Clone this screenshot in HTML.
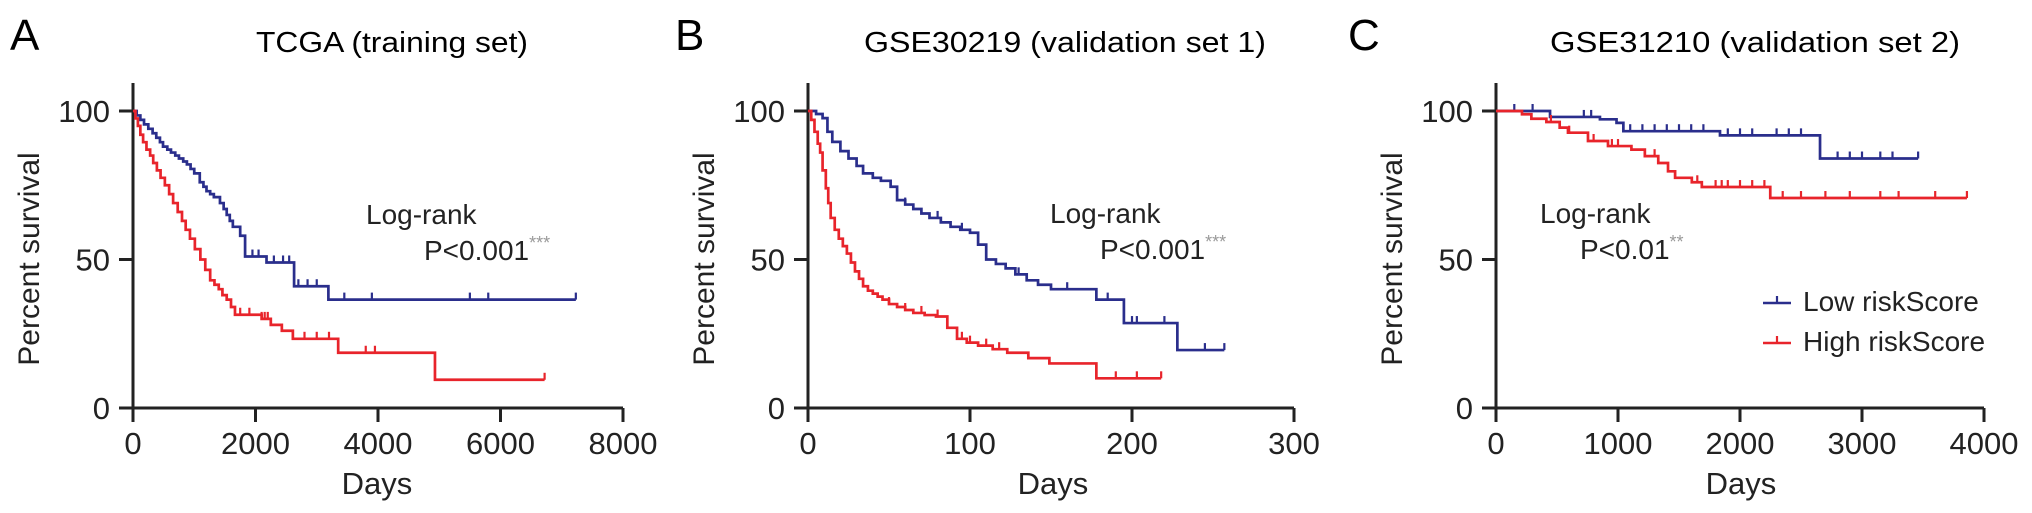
<!DOCTYPE html>
<html><head><meta charset="utf-8"><style>
html,body{margin:0;padding:0;background:#fff;}
svg{display:block;font-family:"Liberation Sans",Arial,sans-serif;}
</style></head><body>
<svg id="chart" width="2032" height="513" viewBox="0 0 2032 513" xmlns="http://www.w3.org/2000/svg">
<text x="10" y="50" font-size="44">A</text>
<text x="675" y="50" font-size="44">B</text>
<text x="1348" y="50" font-size="44">C</text>
<text x="256" y="52" font-size="29" textLength="272" lengthAdjust="spacingAndGlyphs">TCGA (training set)</text>
<text x="864" y="52" font-size="29" textLength="402" lengthAdjust="spacingAndGlyphs">GSE30219 (validation set 1)</text>
<text x="1550" y="52" font-size="29" textLength="410" lengthAdjust="spacingAndGlyphs">GSE31210 (validation set 2)</text>
<g id="pa"></g>
<g id="pb"></g>
<g id="pc"></g>
<g>
<g>
<line x1="1763" y1="303" x2="1791" y2="303" stroke="#2a2e8c" stroke-width="2.5"/><line x1="1777" y1="303" x2="1777" y2="296" stroke="#2a2e8c" stroke-width="2.2"/>
<text x="1803" y="311" font-size="28" fill="#222">Low riskScore</text></g>
<g>
<line x1="1763" y1="343" x2="1791" y2="343" stroke="#e8242b" stroke-width="2.5"/><line x1="1777" y1="343" x2="1777" y2="336" stroke="#e8242b" stroke-width="2.2"/>
<text x="1803" y="351" font-size="28" fill="#222">High riskScore</text></g>
</g>
</svg>
<script>
// Panel A data (TCGA)
const aXTicks = [0, 2000, 4000, 6000, 8000];
const aLowT = [0,60,120,180,250,320,380,440,490,560,620,690,750,820,880,940,1000,1090,1150,1200,1260,1320,1420,1480,1530,1580,1630,1750,1830,2180,2630,3190];
const aLowS = [100,98.5,97,95.5,94,92.5,91,89.5,88,87,86,85,84,83,82,80.5,79,76,74.5,73,72,71,69,67,65,63,61,58,51,49,41,36.5];
const aLowEnd = 7230;
const aLowCens = [1950,2050,2300,2450,2550,2700,2850,3000,3450,3900,5500,5800,7230];
const aHighT = [0,40,80,120,165,220,280,330,390,450,520,590,655,730,800,860,930,1010,1100,1180,1260,1330,1400,1460,1530,1600,1665,2100,2250,2430,2610,3350,4930];
const aHighS = [100,97.5,95,92,89.5,87,85,82.5,80,77.5,75,72,69,66,63,60,57,53.5,50,46.5,43,41.5,40,38,36.5,34,31.4,30,28,26,23.3,18.6,9.5];
const aHighEnd = 6720;
const aHighCens = [1750,1900,2100,2150,2200,2800,3000,3200,3800,3950,6720];
// Panel B data (GSE30219)
const bXTicks = [0, 100, 200, 300];
const bLowT = [0,5,9,12,15,20,25,30,34,40,45,51,55,60,65,70,75,82,88,94,100,105,110,116,122,128,135,142,150,165,178,195,228];
const bLowS = [100,99,97.6,93,89.6,86.5,84,81.5,79,77.5,76.5,74.5,70,68.5,67,65.5,64,62.5,61,60,59,55,50,48.5,47,45,43,41.5,40,40,36.5,28.6,19.5];
const bLowEnd = 257;
const bLowCens = [60,80,95,130,160,185,200,203,220,245,257];
const bHighT = [0,2,4,6,7.5,9,11,12.5,14,16.5,19,21.5,24,26.5,29,31.5,34,37,40,43,46,50,55,60,65,72,79,86,92,98,105,114,123,136,149,178];
const bHighS = [100,97,93,89,86,80,74,69,64,60,57,54.5,52,49,46,43.5,41,39.5,38.5,37.5,36.5,35,34,33,32,31.3,30.8,27,23.3,22,21,19.8,18.6,16.8,15,10];
const bHighEnd = 218;
const bHighCens = [50,60,70,80,95,100,110,118,190,203,218];
// Panel C data (GSE31210)
const cXTicks = [0, 1000, 2000, 3000, 4000];
const cLowT = [0,443,852,988,1044,1836,2656];
const cLowS = [100,98,97.2,96,93.2,91.8,84];
const cLowEnd = 3460;
const cLowCens = [150,300,720,780,1100,1200,1300,1400,1500,1600,1700,1900,2000,2100,2300,2400,2500,2800,2900,3000,3150,3250,3460];
const cHighT = [0,213,290,413,522,590,754,918,1110,1220,1330,1410,1468,1605,1687,2248];
const cHighS = [100,98.9,97.4,96.3,94.4,92.7,89.9,88.2,87,84.8,82.5,79.7,77.5,76,74.4,70.7];
const cHighEnd = 3860;
const cHighCens = [450,600,800,950,1000,1300,1650,1800,1850,1900,2000,2100,2200,2350,2500,2700,2900,3150,3300,3600,3860];
const yTicks = [0, 50, 100];

const NS = "http://www.w3.org/2000/svg";
const BLUE = "#2a2e8c", RED = "#e8242b";
function mk(tag, attrs, parent, text) {
  const e = document.createElementNS(NS, tag);
  for (const k in attrs) e.setAttribute(k, attrs[k]);
  if (text !== undefined) e.textContent = text;
  parent.appendChild(e);
  return e;
}
function survAt(T, S, d) { let s = S[0]; for (let i = 0; i < T.length; i++) if (T[i] <= d) s = S[i]; return s; }

function panel(id, cfg) {
  const g = document.getElementById(id);
  const xs = d => cfg.x0 + (d / cfg.xmax) * (cfg.x1 - cfg.x0);
  const ys = s => cfg.y0 - (s / 100) * (cfg.y0 - cfg.y100);
  const ya = mk("line", {x1: cfg.x0, y1: cfg.y0, x2: cfg.x0, y2: cfg.y100 - 28, stroke: "#222", "stroke-width": 3}, g);
  
  
  const xa = mk("line", {x1: cfg.x0 - 14, y1: cfg.y0, x2: cfg.x1, y2: cfg.y0, stroke: "#222", "stroke-width": 3}, g);
  
  
  yTicks.forEach(v => {
    const t = mk("line", {x1: cfg.x0 - 14, y1: ys(v), x2: cfg.x0, y2: ys(v), stroke: "#222", "stroke-width": 3}, g);
    
    
    const l = mk("text", {x: cfg.x0 - 23, y: ys(v) + 11, "font-size": 31, "text-anchor": "end", fill: "#222"}, g, String(v));
    
    
  });
  cfg.ticks.forEach(v => {
    const t = mk("line", {x1: xs(v), y1: cfg.y0, x2: xs(v), y2: cfg.y0 + 14, stroke: "#222", "stroke-width": 3}, g);
    
    
    const l = mk("text", {x: xs(v), y: cfg.y0 + 46, "font-size": 31, "text-anchor": "middle", fill: "#222"}, g, String(v));
    
    
  });
  const yt = mk("text", {x: 0, y: 0, "font-size": 30, "text-anchor": "middle", fill: "#222", transform: `translate(${cfg.x0 - 94},259) rotate(-90)`}, g, "Percent survival");
  
  
  const xt = mk("text", {x: cfg.daysX, y: 494, "font-size": 31, "text-anchor": "middle", fill: "#222"}, g, "Days");
  
  
  cfg.series.forEach(sr => {
    let d = `M${xs(sr.T[0])},${ys(sr.S[0])}`;
    for (let i = 1; i < sr.T.length; i++) d += ` H${xs(sr.T[i])} V${ys(sr.S[i])}`;
    d += ` H${xs(sr.end)}`;
    const p = mk("path", {d: d, fill: "none", stroke: sr.color, "stroke-width": 2.7}, g);
    
    
    sr.cens.forEach(c => {
      const yy = ys(survAt(sr.T, sr.S, c));
      const m = mk("line", {x1: xs(c), y1: yy, x2: xs(c), y2: yy - 7, stroke: sr.color, "stroke-width": 2.2}, g);
      
      
    });
  });
  const lr = mk("text", {x: cfg.lrX, y: cfg.lrY, "font-size": 28, fill: "#222"}, g, "Log-rank");
  
  
  const pv = mk("text", {x: cfg.pX, y: cfg.lrY + 36, "font-size": 28, fill: "#222"}, g);
  
  
  mk("tspan", {}, pv, cfg.p);
  mk("tspan", {dy: -11, "font-size": 18, fill: "#999"}, pv, cfg.stars);
}

panel("pa", {x0: 133, x1: 623, xmax: 8000, y0: 408, y100: 111, ticks: aXTicks, daysX: 377,
  lrX: 366, pX: 424, lrY: 224, p: "P<0.001", stars: "***",
  series: [
    {name: "low-risk-curve-a", T: aLowT, S: aLowS, end: aLowEnd, cens: aLowCens, color: BLUE},
    {name: "high-risk-curve-a", T: aHighT, S: aHighS, end: aHighEnd, cens: aHighCens, color: RED}]});
panel("pb", {x0: 808, x1: 1294, xmax: 300, y0: 408, y100: 111, ticks: bXTicks, daysX: 1053,
  lrX: 1050, pX: 1100, lrY: 223, p: "P<0.001", stars: "***",
  series: [
    {name: "low-risk-curve-b", T: bLowT, S: bLowS, end: bLowEnd, cens: bLowCens, color: BLUE},
    {name: "high-risk-curve-b", T: bHighT, S: bHighS, end: bHighEnd, cens: bHighCens, color: RED}]});
panel("pc", {x0: 1496, x1: 1984, xmax: 4000, y0: 408, y100: 111, ticks: cXTicks, daysX: 1741,
  lrX: 1540, pX: 1580, lrY: 223, p: "P<0.01", stars: "**",
  series: [
    {name: "low-risk-curve-c", T: cLowT, S: cLowS, end: cLowEnd, cens: cLowCens, color: BLUE},
    {name: "high-risk-curve-c", T: cHighT, S: cHighS, end: cHighEnd, cens: cHighCens, color: RED}]});
</script>
</body></html>
